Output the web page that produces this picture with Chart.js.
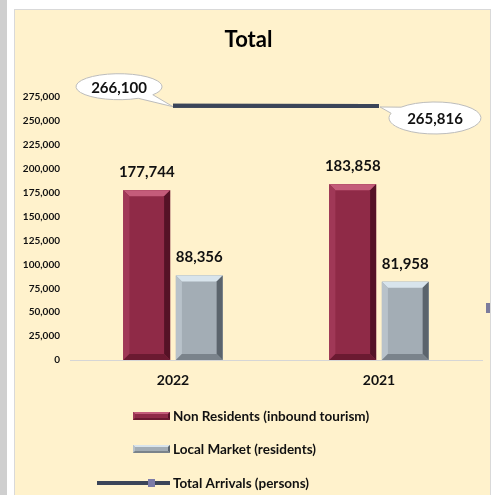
<!DOCTYPE html>
<html>
<head>
<meta charset="utf-8">
<script src="https://cdn.jsdelivr.net/npm/chart.js@4"></script>
<style>
  body { margin: 0; background: #fff; width: 498px; height: 495px; overflow: hidden; position: relative; }
  #strip { position: absolute; left: 0; top: 0; width: 7px; height: 495px; background: #cfcfcf; }
  #panel { position: absolute; left: 14px; top: 9px; width: 475px; height: 490px; background: #fff2cc; border: 1px solid #d9d9d9; }
  #wrap { position: absolute; left: 15px; top: 10px; width: 474px; height: 485px; }
  #handle { position: absolute; left: 486px; top: 303px; width: 4px; height: 10px; background: #7c7c9c; }
</style>
</head>
<body>
<div id="strip"></div>
<div id="panel"></div>
<div id="wrap"><canvas id="chart"></canvas></div>
<div id="handle"></div>
<script>
const years = ['2022', '2021'];
const nonResidents = [177744, 183858];
const localMarket = [88356, 81958];
const totalArrivals = [266100, 265816];
const seriesNames = ['Non Residents (inbound tourism)', 'Local Market (residents)', 'Total Arrivals (persons)'];

const FONT = 'Lato, "Open Sans", sans-serif';
const fmt = v => v.toLocaleString('en-US');

const shades = {
  red: { body: '#8f2a47', top: '#c45c7a', left: '#a03857', right: '#551226', bottom: '#6b1a31' },
  gray: { body: '#a3adb5', top: '#d8e4ec', left: '#b8c2ca', right: '#5b646c', bottom: '#7a838b' }
};

function bevel(ctx, x0, y0, x1, y1, b, c) {
  ctx.fillStyle = c.body;
  ctx.fillRect(x0, y0, x1 - x0, y1 - y0);
  const poly = (pts, col) => {
    ctx.beginPath();
    ctx.moveTo(pts[0][0], pts[0][1]);
    pts.slice(1).forEach(p => ctx.lineTo(p[0], p[1]));
    ctx.closePath();
    ctx.fillStyle = col;
    ctx.fill();
  };
  poly([[x0, y0], [x1, y0], [x1 - b, y0 + b], [x0 + b, y0 + b]], c.top);
  poly([[x0, y0], [x0 + b, y0 + b], [x0 + b, y1 - b], [x0, y1]], c.left);
  poly([[x1, y0], [x1, y1], [x1 - b, y1 - b], [x1 - b, y0 + b]], c.right);
  poly([[x0, y1], [x0 + b, y1 - b], [x1 - b, y1 - b], [x1, y1]], c.bottom);
}

function callout(ctx, cx, cy, rx, ry, ax, ay, text) {
  const th = Math.atan2((ay - cy) / ry, (ax - cx) / rx);
  const d = 0.22;
  ctx.beginPath();
  ctx.ellipse(cx, cy, rx, ry, 0, th + d, th - d + Math.PI * 2);
  ctx.lineTo(ax, ay);
  ctx.closePath();
  ctx.fillStyle = '#ffffff';
  ctx.fill();
  ctx.strokeStyle = '#bcbcbc';
  ctx.lineWidth = 1;
  ctx.stroke();
  ctx.fillStyle = '#111';
  ctx.font = 'bold 15px ' + FONT;
  ctx.textAlign = 'center';
  ctx.textBaseline = 'middle';
  ctx.fillText(text, cx, cy + 1);
}

const decor = {
  id: 'decor',
  afterDatasetsDraw(chart) {
    const ctx = chart.ctx;
    ctx.save();
    [0, 1].forEach(i => {
      const c = i === 0 ? shades.red : shades.gray;
      chart.getDatasetMeta(i).data.forEach((bar, j) => {
        const x0 = bar.x - bar.width / 2, x1 = bar.x + bar.width / 2;
        bevel(ctx, x0, bar.y, x1, bar.base, 6, c);
        ctx.fillStyle = '#111';
        ctx.font = 'bold 15px ' + FONT;
        ctx.textAlign = 'center';
        ctx.textBaseline = 'middle';
        ctx.fillText(fmt(chart.data.datasets[i].data[j]), bar.x, bar.y - 18);
      });
    });
    // line again, above the bars
    const pts = chart.getDatasetMeta(2).data;
    ctx.beginPath();
    ctx.moveTo(pts[0].x, pts[0].y);
    ctx.lineTo(pts[1].x, pts[1].y);
    ctx.strokeStyle = '#3b4559';
    ctx.lineWidth = 4;
    ctx.stroke();
    callout(ctx, pts[0].x - 54, pts[0].y - 19, 43, 13, pts[0].x, pts[0].y + 1, fmt(totalArrivals[0]));
    callout(ctx, pts[1].x + 56, pts[1].y + 12, 46, 16, pts[1].x + 1, pts[1].y + 1, fmt(totalArrivals[1]));

    // legend
    const lx = 118, rows = [406, 439, 473];
    ctx.font = 'bold 13.5px ' + FONT;
    ctx.textAlign = 'left';
    ctx.textBaseline = 'middle';
    bevel(ctx, lx, rows[0] - 4, lx + 37, rows[0] + 4, 2, shades.red);
    bevel(ctx, lx, rows[1] - 4, lx + 37, rows[1] + 4, 2, shades.gray);
    ctx.beginPath();
    ctx.moveTo(lx - 36, rows[2]);
    ctx.lineTo(lx + 37, rows[2]);
    ctx.strokeStyle = '#3b4559';
    ctx.lineWidth = 4;
    ctx.stroke();
    ctx.fillStyle = '#7b7ba8';
    ctx.fillRect(lx + 15, rows[2] - 4, 7, 8);
    ctx.fillStyle = '#111';
    seriesNames.forEach((s, i) => ctx.fillText(s, lx + 40, rows[i] + 1));
    ctx.restore();
  }
};

new Chart(document.getElementById('chart'), {
  data: {
    labels: years,
    datasets: [
      { type: 'bar', label: seriesNames[0], data: nonResidents, backgroundColor: shades.red.body, categoryPercentage: 0.51, barPercentage: 0.89, order: 2 },
      { type: 'bar', label: seriesNames[1], data: localMarket, backgroundColor: shades.gray.body, categoryPercentage: 0.51, barPercentage: 0.89, order: 2 },
      { type: 'line', label: seriesNames[2], data: totalArrivals, borderColor: '#3b4559', borderWidth: 4, pointRadius: 0, order: 1 }
    ]
  },
  options: {
    responsive: true,
    maintainAspectRatio: false,
    animation: false,
    layout: { padding: { left: 0, right: 7, top: 0, bottom: 105 } },
    plugins: {
      legend: { display: false },
      tooltip: { enabled: false },
      title: {
        display: true,
        text: 'Total',
        color: '#000',
        font: { family: FONT, size: 22, weight: 'bold', lineHeight: 1.1 },
        padding: { top: 18, bottom: 45 }
      }
    },
    scales: {
      x: {
        grid: { display: false, drawTicks: false },
        border: { display: true, color: '#d6d6d6' },
        ticks: { color: '#111', padding: 12, font: { family: FONT, size: 14, weight: 'bold' } },
        afterFit: s => { s.height = 30; }
      },
      y: {
        min: 0,
        max: 275000,
        grid: { display: false, drawTicks: false },
        border: { display: false },
        ticks: { stepSize: 25000, color: '#111', padding: 10, font: { family: FONT, size: 10, weight: 'bold' }, callback: v => fmt(v) },
        afterFit: s => { s.width = 55; }
      }
    }
  },
  plugins: [decor]
});
</script>
</body>
</html>
